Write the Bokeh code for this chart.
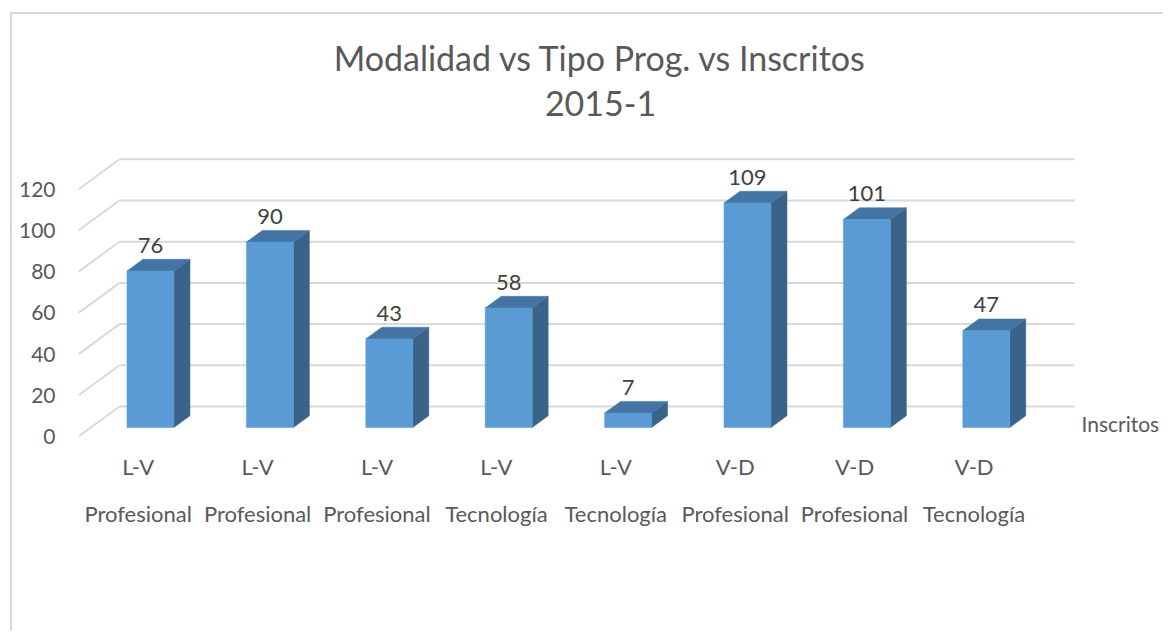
import numpy as np
from bokeh.plotting import figure
from bokeh.models import Range1d, LinearAxis, FixedTicker, Label, ColumnDataSource
from bokeh.core.properties import value
from bokeh.embed import file_html
from bokeh.resources import INLINE

# ---- data ----
modalidad = ["L-V", "L-V", "L-V", "L-V", "L-V", "V-D", "V-D", "V-D"]
tipo_prog = ["Profesional", "Profesional", "Profesional", "Tecnología", "Tecnología",
             "Profesional", "Profesional", "Tecnología"]
inscritos = [76, 90, 43, 58, 7, 109, 101, 47]
y_ticks = [0, 20, 40, 60, 80, 100, 120]
title_line1 = "Modalidad vs Tipo Prog. vs Inscritos"
title_line2 = "2015-1"
series_name = "Inscritos"

# ---- style / geometry ----
FONT = "Lato"
TXT = "#595959"
GRID = "#D9D9D9"
DX, DY = 0.3434, 14.56          # full depth of the 3D box in data units
BF, BB = 0.30, 0.69             # bar front / back as fractions of depth
BW = 0.3936                     # bar width
FRONT, TOP, SIDE = "#5B9BD5", "#4374A3", "#3A6389"

n = len(inscritos)
idx = np.arange(n, dtype=float)
vals = np.array(inscritos, dtype=float)

p = figure(width=1153, height=619, output_backend="svg", toolbar_location=None,
           x_axis_type=None, y_axis_type=None,
           x_range=Range1d(-0.5, 8.604), y_range=Range1d(0, 201.94),
           min_border_left=66, min_border_right=0, min_border_top=6, min_border_bottom=197,
           styles={"border-left": "2px solid #D9D9D9", "border-top": "2px solid #D9D9D9",
                   "margin-left": "10px", "margin-top": "12px"})
p.title.visible = False
p.outline_line_color = None
p.xgrid.visible = False
p.ygrid.visible = False
p.background_fill_color = "white"
p.border_fill_color = "white"

# back wall gridlines and side diagonals
gt = np.array(y_ticks, dtype=float)
p.segment(x0=np.full_like(gt, -0.5 + DX), y0=gt + DY, x1=np.full_like(gt, n - 0.5 + DX), y1=gt + DY,
          line_color=GRID, line_width=2)
p.segment(x0=np.full_like(gt, -0.5), y0=gt, x1=np.full_like(gt, -0.5 + DX), y1=gt + DY,
          line_color=GRID, line_width=2)

# bars
c = idx + BF * DX
xl, xr = c - BW / 2, c + BW / 2
sx, sy = (BB - BF) * DX, (BB - BF) * DY
y0 = BF * DY
front_xs = [[a, b, b, a] for a, b in zip(xl, xr)]
front_ys = [[y0, y0, y0 + v, y0 + v] for v in vals]
top_xs = [[a, b, b + sx, a + sx] for a, b in zip(xl, xr)]
top_ys = [[y0 + v, y0 + v, y0 + v + sy, y0 + v + sy] for v in vals]
side_xs = [[b, b + sx, b + sx, b] for b in xr]
side_ys = [[y0, y0 + sy, y0 + v + sy, y0 + v] for v in vals]
p.patches(side_xs, side_ys, fill_color=SIDE, line_color=SIDE, line_width=0.5)
p.patches(top_xs, top_ys, fill_color=TOP, line_color=TOP, line_width=0.5)
p.patches(front_xs, front_ys, fill_color=FRONT, line_color=FRONT, line_width=0.5)

# data labels
src = ColumnDataSource(dict(x=c, y=vals + BB * DY, t=[str(v) for v in inscritos]))
p.text(x="x", y="y", text="t", source=src, text_align="center", text_baseline="middle",
       y_offset=-14, text_font=value(FONT), text_font_size="22px", text_color="#404040")

# axes
yax = LinearAxis(ticker=FixedTicker(ticks=y_ticks))
xax1 = LinearAxis(ticker=FixedTicker(ticks=list(range(n))),
                  major_label_overrides={i: m for i, m in enumerate(modalidad)})
xax2 = LinearAxis(ticker=FixedTicker(ticks=list(range(n))),
                  major_label_overrides={i: t for i, t in enumerate(tipo_prog)})
for ax in (yax, xax1, xax2):
    ax.axis_line_color = None
    ax.major_tick_line_color = None
    ax.minor_tick_line_color = None
    ax.major_label_text_font = FONT
    ax.major_label_text_font_size = "22px"
    ax.major_label_text_color = TXT
yax.major_label_text_font_size = "21px"
yax.major_label_standoff = 17
xax1.major_label_standoff = 10
xax2.major_label_standoff = 11
p.add_layout(yax, "left")
p.add_layout(xax1, "below")
p.add_layout(xax2, "below")

# titles and series name
for txt, yy in ((title_line1, 184.2), (title_line2, 161.7)):
    p.add_layout(Label(x=3.872, y=yy, text=txt, text_align="center", text_baseline="middle",
                       text_font=FONT, text_font_size="34px", text_color=TXT))
p.add_layout(Label(x=7.9, y=6.3, text=series_name, text_align="left", text_baseline="middle",
                   text_font=FONT, text_font_size="21px", text_color=TXT))

open("out.html", "w").write(file_html(p, INLINE))
